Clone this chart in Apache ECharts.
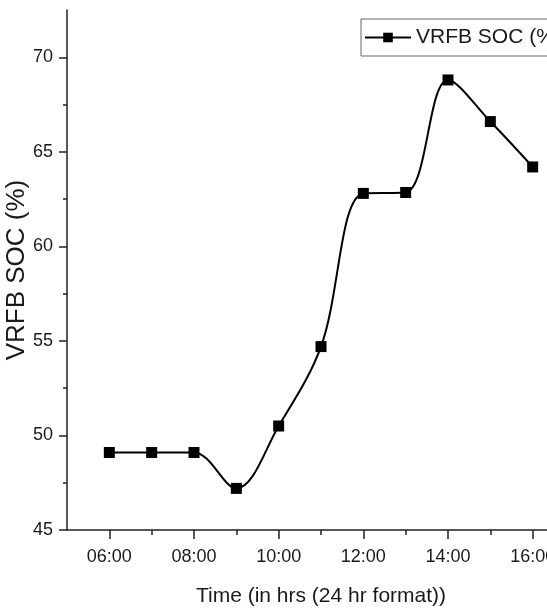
<!DOCTYPE html>
<html>
<head>
<meta charset="utf-8">
<style>
html,body{margin:0;padding:0;background:#fff;}
#chart{width:547px;height:614px;}
</style>
<script src="https://cdn.jsdelivr.net/npm/echarts@6/dist/echarts.min.js"></script>
</head>
<body>
<div id="chart"></div>
<script>
var hours = [6, 7, 8, 9, 10, 11, 12, 13, 14, 15, 16];
var soc = [49.1, 49.1, 49.1, 47.2, 50.5, 54.7, 62.8, 62.85, 68.8, 66.6, 64.2];
var xMajorTicks = [6, 8, 10, 12, 14, 16];
var xMinorTicks = [7, 9, 11, 13, 15];
var yMajorTicks = [45, 50, 55, 60, 65, 70];
var yMinorTicks = [47.5, 52.5, 57.5, 62.5, 67.5];
var seriesName = 'VRFB SOC (%)';
var xTitle = 'Time (in hrs (24 hr format))';
var yTitle = 'VRFB SOC (%)';

var font = 'Liberation Sans, Arial, sans-serif';
var ink = '#1a1a1a';
var chart = echarts.init(document.getElementById('chart'));
function fmt(v){ return (v < 10 ? '0' : '') + v + ':00'; }
var data = hours.map(function(h, i){ return [h, soc[i]]; });

chart.setOption({
  animation: false,
  backgroundColor: '#fff',
  grid: {left: 67, top: 10, right: -28, bottom: 84, containLabel: false, outerBoundsMode: 'none'},
  legend: {
    left: 361, top: 19,
    padding: [8, 8, 8, 3],
    itemWidth: 46, itemHeight: 12,
    borderColor: '#666', borderWidth: 1,
    textStyle: {fontFamily: font, fontSize: 21, color: ink},
    data: [seriesName]
  },
  xAxis: [{
    type: 'value', min: 5, max: 17,
    name: xTitle, nameLocation: 'middle', nameGap: 56, nameMoveOverlap: false,
    nameTextStyle: {fontFamily: font, fontSize: 21, color: ink},
    axisLine: {show: true, onZero: false, lineStyle: {color: '#222', width: 1.5}},
    axisTick: {show: true, customValues: xMajorTicks, length: 9, lineStyle: {color: '#222', width: 1.5}},
    axisLabel: {customValues: xMajorTicks, formatter: fmt, margin: 18, fontFamily: font, fontSize: 18, color: ink},
    splitLine: {show: false}
  }, {
    type: 'value', min: 5, max: 17, position: 'bottom',
    axisLine: {show: false},
    axisTick: {show: true, customValues: xMinorTicks, length: 5, lineStyle: {color: '#222', width: 1.5}},
    axisLabel: {show: false},
    splitLine: {show: false}
  }],
  yAxis: [{
    type: 'value', min: 45, max: 72.5,
    name: yTitle, nameLocation: 'middle', nameGap: 37, nameMoveOverlap: false,
    nameTextStyle: {fontFamily: font, fontSize: 26, color: ink},
    axisLine: {show: true, onZero: false, lineStyle: {color: '#222', width: 1.5}},
    axisTick: {show: true, customValues: yMajorTicks, length: 8, lineStyle: {color: '#222', width: 1.5}},
    axisLabel: {customValues: yMajorTicks, margin: 14, fontFamily: font, fontSize: 18, color: ink},
    splitLine: {show: false}
  }, {
    type: 'value', min: 45, max: 72.5, position: 'left',
    axisLine: {show: false},
    axisTick: {show: true, customValues: yMinorTicks, length: 4, lineStyle: {color: '#222', width: 1.5}},
    axisLabel: {show: false},
    splitLine: {show: false}
  }],
  series: [{
    name: seriesName,
    type: 'line',
    xAxisIndex: 0, yAxisIndex: 0,
    data: data,
    smooth: 0.35,
    symbol: 'rect', symbolSize: 11,
    lineStyle: {color: '#000', width: 2},
    itemStyle: {color: '#000'},
    clip: false
  }]
});
</script>
</body>
</html>
